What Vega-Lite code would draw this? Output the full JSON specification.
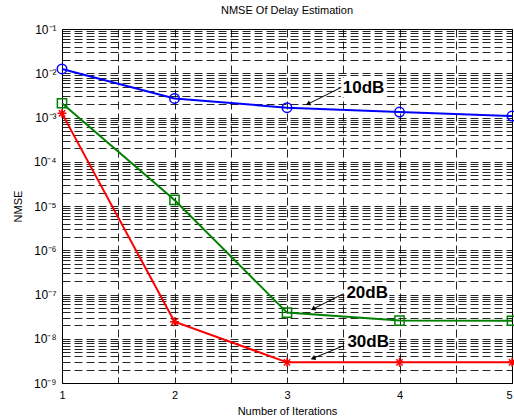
{
  "$schema": "https://vega.github.io/schema/vega-lite/v6.json",
  "width": 450,
  "height": 354,
  "autosize": "none",
  "padding": {"left": 62, "top": 29, "right": 2, "bottom": 37},
  "background": "white",
  "config": {
    "view": {"stroke": "#000", "strokeWidth": 1},
    "font": "Liberation Sans",
    "axis": {"labelFont": "Liberation Sans", "titleFont": "Liberation Sans", "labelColor": "#000", "titleColor": "#000", "titleFontWeight": "normal"}
  },
  "title": {"text": "NMSE Of Delay Estimation", "fontSize": 11, "fontWeight": "normal", "font": "Liberation Sans", "offset": 7, "color": "#000"},
  "datasets": {
    "series": [
      {"iter": 1, "nmse": 0.0125, "snr": "10dB"},
      {"iter": 2, "nmse": 0.0027, "snr": "10dB"},
      {"iter": 3, "nmse": 0.00167, "snr": "10dB"},
      {"iter": 4, "nmse": 0.00133, "snr": "10dB"},
      {"iter": 5, "nmse": 0.00108, "snr": "10dB"},
      {"iter": 1, "nmse": 0.0021, "snr": "20dB"},
      {"iter": 2, "nmse": 1.37e-5, "snr": "20dB"},
      {"iter": 3, "nmse": 3.9e-8, "snr": "20dB"},
      {"iter": 4, "nmse": 2.57e-8, "snr": "20dB"},
      {"iter": 5, "nmse": 2.55e-8, "snr": "20dB"},
      {"iter": 1, "nmse": 0.00124, "snr": "30dB"},
      {"iter": 2, "nmse": 2.43e-8, "snr": "30dB"},
      {"iter": 3, "nmse": 2.93e-9, "snr": "30dB"},
      {"iter": 4, "nmse": 2.93e-9, "snr": "30dB"},
      {"iter": 5, "nmse": 2.93e-9, "snr": "30dB"}
    ],
    "notes": [
      {"label": "10dB", "tx": 3.496, "ty": 4.57e-3, "bx1": 3.478, "bx2": 3.887, "by1": 7.8e-3, "by2": 2.9e-3, "ax1": 3.484, "ay1": 4.81e-3, "ax2": 3.187, "ay2": 2.02e-3, "angle": 243},
      {"label": "20dB", "tx": 3.528, "ty": 1.1e-7, "bx1": 3.51, "bx2": 3.91, "by1": 1.73e-7, "by2": 6.78e-8, "ax1": 3.498, "ay1": 1.03e-7, "ax2": 3.231, "ay2": 4.7e-8, "angle": 243},
      {"label": "30dB", "tx": 3.537, "ty": 8.3e-9, "bx1": 3.51, "bx2": 3.91, "by1": 1.28e-8, "by2": 5.02e-9, "ax1": 3.498, "ay1": 6.86e-9, "ax2": 3.231, "ay2": 3.61e-9, "angle": 248}
    ]
  },
  "layer": [
    {
      "data": {"name": "notes"},
      "mark": {"type": "rect", "fill": "white"},
      "encoding": {
        "x": {"field": "bx1", "type": "quantitative", "scale": {"domain": [1, 5], "nice": false}},
        "x2": {"field": "bx2"},
        "y": {"field": "by1", "type": "quantitative", "scale": {"type": "log", "domain": [1e-9, 0.1], "nice": false}},
        "y2": {"field": "by2"}
      }
    },
    {
      "data": {"name": "series"},
      "mark": {"type": "line", "strokeWidth": 2},
      "encoding": {
        "x": {"field": "iter", "type": "quantitative", "scale": {"domain": [1, 5], "nice": false},
          "axis": {"values": [1, 1.5, 2, 2.5, 3, 3.5, 4, 4.5, 5], "labelExpr": "datum.value % 1 == 0 ? format(datum.value, 'd') : ''", "labelAlign": {"condition": {"test": "datum.value == 5", "value": "right"}, "value": "center"}, "grid": true, "gridDash": [8, 4], "gridColor": "#000", "gridOpacity": 0.85, "ticks": false, "domain": false, "labelFontSize": 11, "labelPadding": 6, "labelFlush": false, "labelOverlap": false, "title": "Number of Iterations", "titleFontSize": 11, "titlePadding": 5}},
        "y": {"field": "nmse", "type": "quantitative", "scale": {"type": "log", "domain": [1e-9, 0.1], "nice": false},
          "axis": {"values": [1e-9, 2e-9, 3e-9, 4e-9, 5e-9, 6e-9, 7e-9, 8e-9, 9e-9, 1e-8, 2e-8, 3e-8, 4e-8, 5e-8, 6e-8, 7e-8, 8e-8, 9e-8, 1e-7, 2e-7, 3e-7, 4e-7, 5e-7, 6e-7, 7e-7, 8e-7, 9e-7, 1e-6, 2e-6, 3e-6, 4e-6, 5e-6, 6e-6, 7e-6, 8e-6, 9e-6, 1e-5, 2e-5, 3e-5, 4e-5, 5e-5, 6e-5, 7e-5, 8e-5, 9e-5, 1e-4, 2e-4, 3e-4, 4e-4, 5e-4, 6e-4, 7e-4, 8e-4, 9e-4, 1e-3, 2e-3, 3e-3, 4e-3, 5e-3, 6e-3, 7e-3, 8e-3, 9e-3, 1e-2, 2e-2, 3e-2, 4e-2, 5e-2, 6e-2, 7e-2, 8e-2, 9e-2, 1e-1],
            "labelExpr": "abs(log(datum.value)/LN10 - round(log(datum.value)/LN10)) < 0.01 ? '10⁻' + ['⁰','¹','²','³','⁴','⁵','⁶','⁷','⁸','⁹'][-round(log(datum.value)/LN10)] : ''",
            "grid": true, "gridDash": [8, 4], "gridColor": "#000", "gridOpacity": 0.85, "ticks": false, "domain": false, "labelFontSize": 12, "labelPadding": 6, "labelOverlap": false, "labelFlush": false, "title": "NMSE", "titleFontSize": 11, "titlePadding": 10}},
        "color": {"field": "snr", "type": "nominal", "scale": {"domain": ["10dB", "20dB", "30dB"], "range": ["#0000ff", "#008000", "#ff0000"]}, "legend": null}
      }
    },
    {
      "data": {"name": "series"},
      "mark": {"type": "point", "filled": false, "strokeWidth": 1.5, "opacity": 1},
      "encoding": {
        "x": {"field": "iter", "type": "quantitative"},
        "y": {"field": "nmse", "type": "quantitative"},
        "color": {"field": "snr", "type": "nominal", "legend": null},
        "shape": {"field": "snr", "type": "nominal", "scale": {"domain": ["10dB", "20dB", "30dB"], "range": ["circle", "square", "M-1,0L1,0M0,-1L0,1M-0.7,-0.7L0.7,0.7M-0.7,0.7L0.7,-0.7"]}, "legend": null},
        "size": {"field": "snr", "type": "nominal", "scale": {"domain": ["10dB", "20dB", "30dB"], "range": [90, 80, 20]}, "legend": null}
      }
    },
    {
      "data": {"name": "notes"},
      "mark": {"type": "rule", "color": "#000", "strokeWidth": 1},
      "encoding": {
        "x": {"field": "ax1", "type": "quantitative"},
        "x2": {"field": "ax2"},
        "y": {"field": "ay1", "type": "quantitative"},
        "y2": {"field": "ay2"}
      }
    },
    {
      "data": {"name": "notes"},
      "mark": {"type": "point", "shape": "triangle-up", "filled": true, "color": "#000", "size": 30, "opacity": 1},
      "encoding": {
        "x": {"field": "ax2", "type": "quantitative"},
        "y": {"field": "ay2", "type": "quantitative"},
        "angle": {"field": "angle", "type": "quantitative", "scale": null}
      }
    },
    {
      "data": {"name": "notes"},
      "mark": {"type": "text", "align": "left", "baseline": "middle", "fontSize": 17, "fontWeight": "bold", "font": "Liberation Sans", "color": "#000"},
      "encoding": {
        "x": {"field": "tx", "type": "quantitative"},
        "y": {"field": "ty", "type": "quantitative"},
        "text": {"field": "label"}
      }
    }
  ]
}
